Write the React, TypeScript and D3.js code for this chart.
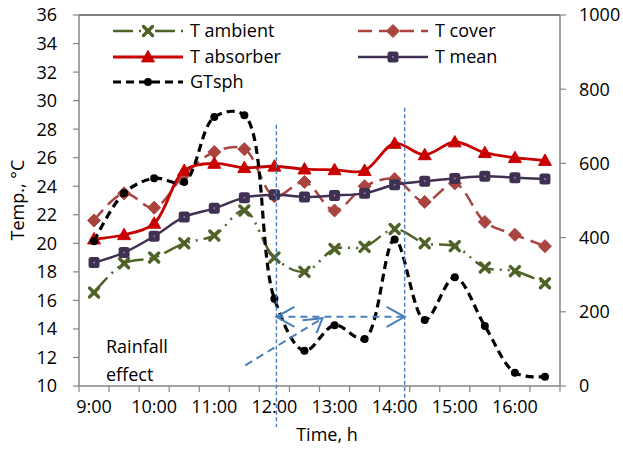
import React from "react";
import * as d3 from "d3";

const times = ["9:00","9:30","10:00","10:30","11:00","11:30","12:00","12:30","13:00","13:30","14:00","14:30","15:00","15:30","16:00","16:30"];
const tAmbient = [16.55, 18.6, 19.0, 20.0, 20.55, 22.3, 19.0, 18.0, 19.6, 19.75, 21.0, 20.0, 19.8, 18.3, 18.05, 17.2];
const tCover = [21.6, 23.5, 22.5, 24.8, 26.4, 26.6, 23.3, 24.3, 22.3, 24.0, 24.5, 22.9, 24.2, 21.5, 20.6, 19.8];
const tAbsorber = [20.3, 20.6, 21.4, 25.1, 25.6, 25.3, 25.4, 25.2, 25.15, 25.1, 27.0, 26.2, 27.1, 26.35, 26.0, 25.8];
const tMean = [18.65, 19.35, 20.5, 21.85, 22.45, 23.2, 23.4, 23.25, 23.35, 23.5, 24.1, 24.35, 24.55, 24.7, 24.6, 24.5];
const gtsph = [390, 520, 560, 550, 725, 730, 235, 95, 164, 127, 395, 178, 293, 162, 36, 25];
const leftTicks = [10, 12, 14, 16, 18, 20, 22, 24, 26, 28, 30, 32, 34, 36];
const rightTicks = [0, 200, 400, 600, 800, 1000];

const W = 623, H = 449;
const font = "'Open Sans', 'Noto Sans', sans-serif";
const FS = 18;
const GRAY = "#868686";
const BLUE = "#4A7EBB";

type Series = { name: string; values: number[]; color: string; dash: string; width: number; marker: string; right?: boolean };

const series: Series[] = [
  { name: "T ambient", values: tAmbient, color: "#4F6228", dash: "20,6,2,6,2,6", width: 2.5, marker: "x" },
  { name: "T cover", values: tCover, color: "#A9443F", dash: "14,7", width: 2.5, marker: "diamond" },
  { name: "T absorber", values: tAbsorber, color: "#C80000", dash: "", width: 2.8, marker: "triangle" },
  { name: "T mean", values: tMean, color: "#403152", dash: "", width: 2.5, marker: "square" },
  { name: "GTsph", values: gtsph, color: "#000000", dash: "8,5", width: 3.2, marker: "circle", right: true },
];

function Marker({ kind, x, y, color }: { kind: string; x: number; y: number; color: string }) {
  if (kind === "x") {
    const s = 4.5;
    return (
      <g stroke={color} strokeWidth={3.4} strokeLinecap="round">
        <line x1={x - s} y1={y - s} x2={x + s} y2={y + s} />
        <line x1={x - s} y1={y + s} x2={x + s} y2={y - s} />
        <circle cx={x} cy={y} r={2.6} fill={color} stroke="none" />
      </g>
    );
  }
  if (kind === "diamond") {
    const s = 6.5;
    return <path d={`M${x},${y - s}L${x + s},${y}L${x},${y + s}L${x - s},${y}Z`} fill={color} stroke={color} strokeWidth={1} />;
  }
  if (kind === "triangle") {
    const s = 6.5;
    return <path d={`M${x},${y - s}L${x + s},${y + s * 0.75}L${x - s},${y + s * 0.75}Z`} fill={color} stroke={color} strokeWidth={1} strokeLinejoin="round" />;
  }
  if (kind === "square") {
    return (
      <g>
        <rect x={x - 5.5} y={y - 5.5} width={11} height={11} rx={2.5} fill={color} />
        <circle cx={x} cy={y} r={1} fill="#8E7CB0" />
      </g>
    );
  }
  return <circle cx={x} cy={y} r={4} fill={color} />;
}

export default function App() {
  const margin = { left: 79, right: 560, top: 15, bottom: 386 };
  const x = d3.scaleBand<string>().domain(times).range([margin.left, margin.right]);
  const xc = (t: string) => (x(t) as number) + x.bandwidth() / 2;
  const y = d3.scaleLinear().domain([10, 36]).range([margin.bottom, margin.top]);
  const y2 = d3.scaleLinear().domain([0, 1000]).range([margin.bottom, margin.top]);

  const line = (s: Series) =>
    d3
      .line<number>()
      .x((_, i) => xc(times[i]))
      .y((v) => (s.right ? y2(v) : y(v)))
      .curve(d3.curveCatmullRom.alpha(0.5))(s.values) as string;

  const boundaries = d3.range(times.length + 1).map((i) => margin.left + i * x.step());

  // legend layout
  const legend = [
    { s: series[0], lx: 113, ly: 31 },
    { s: series[2], lx: 113, ly: 57 },
    { s: series[4], lx: 113, ly: 82 },
    { s: series[1], lx: 358, ly: 31 },
    { s: series[3], lx: 358, ly: 57 },
  ];

  // annotation positions
  const vx1 = xc("12:00") + 2;
  const vx2 = xc("14:00") + 10;
  const arrowY = y(14.85);
  const dStart = [xc("11:30") + 1, y(11.45)];
  const dEnd = [xc("13:00") - 12, y(14.75)];

  return (
    <svg width={W} height={H} style={{ position: "absolute", left: 0, top: 0, background: "#fff" }} fontFamily={font}>
      <rect width={W} height={H} fill="#fff" />
      {/* plot frame */}
      <line x1={margin.left} x2={margin.right} y1={margin.top} y2={margin.top} stroke="#000" strokeWidth={1.2} />
      {/* left axis */}
      <line x1={margin.left} x2={margin.left} y1={margin.top} y2={margin.bottom} stroke={GRAY} strokeWidth={1.5} />
      {leftTicks.map((t) => (
        <g key={"l" + t}>
          <line x1={margin.left - 6} x2={margin.left} y1={y(t)} y2={y(t)} stroke={GRAY} strokeWidth={1.2} />
          <text x={57} y={y(t)} dy="0.36em" textAnchor="end" fontSize={FS}>{t}</text>
        </g>
      ))}
      {/* right axis */}
      <line x1={margin.right} x2={margin.right} y1={margin.top} y2={margin.bottom} stroke={GRAY} strokeWidth={1.5} />
      {rightTicks.map((t) => (
        <g key={"r" + t}>
          <line x1={margin.right} x2={margin.right + 6} y1={y2(t)} y2={y2(t)} stroke={GRAY} strokeWidth={1.2} />
          <text x={579} y={y2(t)} dy="0.36em" fontSize={FS}>{t}</text>
        </g>
      ))}
      {/* bottom axis */}
      <line x1={margin.left} x2={margin.right} y1={margin.bottom} y2={margin.bottom} stroke={GRAY} strokeWidth={1.5} />
      {boundaries.map((b, i) => (
        <line key={"b" + i} x1={b} x2={b} y1={margin.bottom} y2={margin.bottom + 6} stroke={GRAY} strokeWidth={1.2} />
      ))}
      {times.map((t, i) =>
        i % 2 === 0 ? (
          <text key={"t" + t} x={xc(t)} y={413} textAnchor="middle" fontSize={FS}>{t}</text>
        ) : null
      )}
      <text x={327} y={441} textAnchor="middle" fontSize={FS}>Time, h</text>
      <text transform={`translate(24,200) rotate(-90)`} textAnchor="middle" fontSize={FS}>Temp., °C</text>

      {/* series */}
      {series.map((s) => (
        <g key={s.name}>
          <path d={line(s)} fill="none" stroke={s.color} strokeWidth={s.width} strokeDasharray={s.dash || undefined} />
          {s.values.map((v, i) => (
            <Marker key={i} kind={s.marker} x={xc(times[i])} y={s.right ? y2(v) : y(v)} color={s.color} />
          ))}
        </g>
      ))}

      {/* rainfall annotation */}
      <g stroke={BLUE} fill="none">
        <line x1={vx1} x2={vx1} y1={y(28.3)} y2={427} strokeWidth={1.4} strokeDasharray="4,2.5" />
        <line x1={vx2} x2={vx2} y1={y(29.5)} y2={412} strokeWidth={1.4} strokeDasharray="4,2.5" />
        <line x1={vx1} x2={vx2} y1={arrowY} y2={arrowY} strokeWidth={2} strokeDasharray="7,5" />
        <path d={`M${vx1 + 18},${arrowY - 10}L${vx1},${arrowY}L${vx1 + 18},${arrowY + 10}`} strokeWidth={2} />
        <path d={`M${vx2 - 18},${arrowY - 10}L${vx2},${arrowY}L${vx2 - 18},${arrowY + 10}`} strokeWidth={2} />
        <line x1={dStart[0]} y1={dStart[1]} x2={dEnd[0]} y2={dEnd[1]} strokeWidth={2} strokeDasharray="8,5" />
        <path d={`M${dEnd[0] - 20},${dEnd[1] + 2}L${dEnd[0]},${dEnd[1]}L${dEnd[0] - 6},${dEnd[1] + 15}`} strokeWidth={2} />
      </g>
      <text x={106} y={353} fontSize={FS}>Rainfall</text>
      <text x={106} y={381} fontSize={FS}>effect</text>

      {/* legend */}
      {legend.map(({ s, lx, ly }) => (
        <g key={"lg" + s.name}>
          <line x1={lx} x2={lx + 70} y1={ly} y2={ly} stroke={s.color} strokeWidth={s.width} strokeDasharray={s.dash || undefined} />
          <Marker kind={s.marker} x={lx + 35} y={ly} color={s.color} />
          <text x={lx + 77} y={ly} dy="0.36em" fontSize={FS}>{s.name}</text>
        </g>
      ))}
    </svg>
  );
}
